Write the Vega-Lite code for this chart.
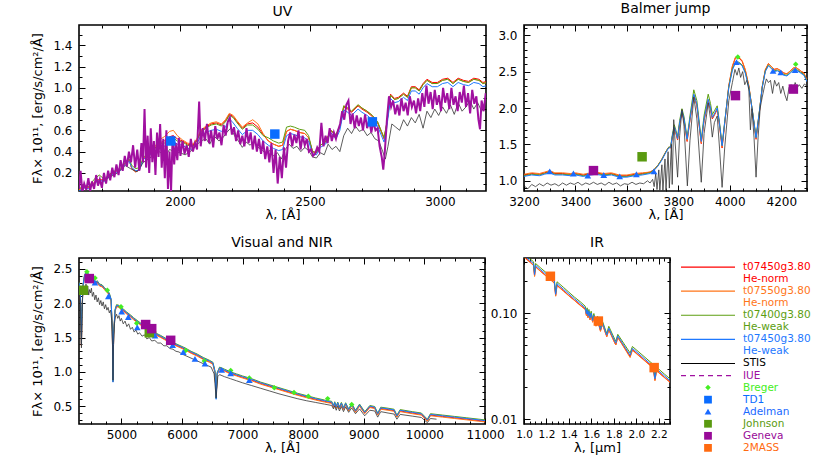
{
"$schema":"https://vega.github.io/schema/vega-lite/v6.json",
"background":"white",
"padding":{"left":31,"top":1,"right":5,"bottom":5},
"config":{
 "font":"DejaVu Sans",
 "view":{"stroke":"black","strokeWidth":1.6},
 "axis":{"domain":false,"grid":false,"tickColor":"black","tickWidth":1,"labelColor":"black","titleColor":"black","labelFont":"DejaVu Sans","titleFont":"DejaVu Sans","labelFontSize":12,"titleFontSize":13,"titleFontWeight":"normal","labelFlush":false,"labelOverlap":false},
 "title":{"font":"DejaVu Sans","fontSize":14,"fontWeight":"normal","color":"black","offset":6,"anchor":"middle"}
},
"datasets":{
"uvm":[
{"x":1612,"r":0.04,"o":0.04,"g":0.05,"b":0.03},{"x":1630,"r":0.07,"o":0.07,"g":0.08,"b":0.06},{"x":1650,"r":0.06,"o":0.06,"g":0.07,"b":0.05},{"x":1670,"r":0.11,"o":0.11,"g":0.14,"b":0.10},{"x":1690,"r":0.14,"o":0.14,"g":0.18,"b":0.13},{"x":1710,"r":0.13,"o":0.13,"g":0.14,"b":0.12},{"x":1730,"r":0.18,"o":0.18,"g":0.19,"b":0.17},{"x":1750,"r":0.21,"o":0.21,"g":0.22,"b":0.20},{"x":1770,"r":0.23,"o":0.23,"g":0.24,"b":0.22},{"x":1790,"r":0.29,"o":0.29,"g":0.30,"b":0.28},{"x":1805,"r":0.32,"o":0.32,"g":0.33,"b":0.31},{"x":1815,"r":0.24,"o":0.24,"g":0.27,"b":0.25},{"x":1830,"r":0.21,"o":0.21,"g":0.24,"b":0.22},{"x":1845,"r":0.23,"o":0.23,"g":0.25,"b":0.23},{"x":1860,"r":0.34,"o":0.34,"g":0.35,"b":0.33},{"x":1880,"r":0.37,"o":0.37,"g":0.38,"b":0.36},{"x":1900,"r":0.42,"o":0.43,"g":0.42,"b":0.40},{"x":1920,"r":0.48,"o":0.51,"g":0.47,"b":0.44},{"x":1940,"r":0.50,"o":0.54,"g":0.48,"b":0.45},{"x":1960,"r":0.54,"o":0.59,"g":0.52,"b":0.49},{"x":1975,"r":0.55,"o":0.60,"g":0.53,"b":0.50},{"x":1990,"r":0.52,"o":0.55,"g":0.50,"b":0.47},{"x":2010,"r":0.50,"o":0.51,"g":0.49,"b":0.46},{"x":2030,"r":0.47,"o":0.48,"g":0.46,"b":0.43},{"x":2050,"r":0.46,"o":0.47,"g":0.45,"b":0.42},{"x":2065,"r":0.51,"o":0.52,"g":0.50,"b":0.47},{"x":2080,"r":0.59,"o":0.60,"g":0.58,"b":0.55},{"x":2100,"r":0.63,"o":0.64,"g":0.62,"b":0.58},{"x":2120,"r":0.66,"o":0.67,"g":0.65,"b":0.60},{"x":2140,"r":0.67,"o":0.68,"g":0.66,"b":0.61},{"x":2160,"r":0.65,"o":0.66,"g":0.64,"b":0.59},{"x":2175,"r":0.69,"o":0.70,"g":0.68,"b":0.63},{"x":2190,"r":0.75,"o":0.76,"g":0.74,"b":0.71},{"x":2205,"r":0.73,"o":0.74,"g":0.72,"b":0.67},{"x":2220,"r":0.68,"o":0.69,"g":0.67,"b":0.62},{"x":2240,"r":0.62,"o":0.63,"g":0.61,"b":0.56},{"x":2260,"r":0.66,"o":0.67,"g":0.65,"b":0.60},{"x":2280,"r":0.67,"o":0.70,"g":0.65,"b":0.60},{"x":2300,"r":0.63,"o":0.66,"g":0.61,"b":0.56},{"x":2320,"r":0.56,"o":0.57,"g":0.55,"b":0.50},{"x":2340,"r":0.50,"o":0.50,"g":0.53,"b":0.46},{"x":2360,"r":0.47,"o":0.47,"g":0.50,"b":0.43},{"x":2380,"r":0.45,"o":0.45,"g":0.48,"b":0.41},{"x":2395,"r":0.46,"o":0.46,"g":0.49,"b":0.42},{"x":2410,"r":0.59,"o":0.59,"g":0.63,"b":0.55},{"x":2425,"r":0.61,"o":0.61,"g":0.64,"b":0.57},{"x":2440,"r":0.60,"o":0.60,"g":0.63,"b":0.56},{"x":2460,"r":0.58,"o":0.58,"g":0.61,"b":0.54},{"x":2480,"r":0.57,"o":0.57,"g":0.60,"b":0.53},{"x":2495,"r":0.53,"o":0.53,"g":0.55,"b":0.50},{"x":2510,"r":0.40,"o":0.40,"g":0.40,"b":0.38},{"x":2525,"r":0.39,"o":0.39,"g":0.39,"b":0.37},{"x":2540,"r":0.46,"o":0.46,"g":0.46,"b":0.44},{"x":2560,"r":0.49,"o":0.49,"g":0.49,"b":0.47},{"x":2580,"r":0.60,"o":0.60,"g":0.60,"b":0.58},{"x":2600,"r":0.55,"o":0.56,"g":0.56,"b":0.52},{"x":2615,"r":0.63,"o":0.64,"g":0.64,"b":0.60},{"x":2630,"r":0.82,"o":0.83,"g":0.83,"b":0.79},{"x":2645,"r":0.80,"o":0.81,"g":0.81,"b":0.77},{"x":2660,"r":0.77,"o":0.78,"g":0.78,"b":0.74},{"x":2685,"r":0.83,"o":0.84,"g":0.84,"b":0.80},{"x":2700,"r":0.80,"o":0.81,"g":0.81,"b":0.77},{"x":2720,"r":0.77,"o":0.78,"g":0.78,"b":0.74},{"x":2740,"r":0.73,"o":0.74,"g":0.74,"b":0.70},{"x":2760,"r":0.67,"o":0.68,"g":0.68,"b":0.64},{"x":2775,"r":0.58,"o":0.59,"g":0.59,"b":0.55},{"x":2785,"r":0.52,"o":0.53,"g":0.53,"b":0.49},{"x":2795,"r":0.65,"o":0.66,"g":0.66,"b":0.62},{"x":2810,"r":0.94,"o":0.93,"g":0.93,"b":0.90},{"x":2825,"r":0.90,"o":0.89,"g":0.89,"b":0.86},{"x":2840,"r":0.91,"o":0.90,"g":0.90,"b":0.87},{"x":2860,"r":0.95,"o":0.94,"g":0.94,"b":0.91},{"x":2875,"r":0.92,"o":0.91,"g":0.91,"b":0.88},{"x":2890,"r":1.01,"o":1.00,"g":1.00,"b":0.97},{"x":2905,"r":1.01,"o":1.00,"g":1.00,"b":0.97},{"x":2920,"r":0.98,"o":0.97,"g":0.97,"b":0.94},{"x":2935,"r":1.04,"o":1.03,"g":1.03,"b":1.00},{"x":2950,"r":1.08,"o":1.07,"g":1.07,"b":1.04},{"x":2970,"r":1.05,"o":1.04,"g":1.04,"b":1.01},{"x":2990,"r":1.05,"o":1.04,"g":1.04,"b":1.01},{"x":3010,"r":1.08,"o":1.07,"g":1.07,"b":1.04},{"x":3030,"r":1.09,"o":1.08,"g":1.08,"b":1.05},{"x":3050,"r":1.05,"o":1.04,"g":1.04,"b":1.01},{"x":3070,"r":1.09,"o":1.08,"g":1.08,"b":1.05},{"x":3090,"r":1.07,"o":1.06,"g":1.06,"b":1.03},{"x":3110,"r":1.06,"o":1.05,"g":1.05,"b":1.02},{"x":3130,"r":1.09,"o":1.08,"g":1.08,"b":1.05},{"x":3150,"r":1.08,"o":1.07,"g":1.07,"b":1.04},{"x":3165,"r":1.05,"o":1.04,"g":1.04,"b":1.01},{"x":3180,"r":1.06,"o":1.05,"g":1.05,"b":1.02}
],
"uvs":[
{"x":1700,"y":0.12},{"x":1730,"y":0.16},{"x":1760,"y":0.20},{"x":1790,"y":0.27},{"x":1810,"y":0.24},{"x":1835,"y":0.21},{"x":1860,"y":0.30},{"x":1890,"y":0.35},{"x":1920,"y":0.40},{"x":1945,"y":0.36},{"x":1960,"y":0.42},{"x":1980,"y":0.40},{"x":2000,"y":0.39},{"x":2020,"y":0.37},{"x":2040,"y":0.40},{"x":2060,"y":0.45},{"x":2080,"y":0.50},{"x":2100,"y":0.52},{"x":2115,"y":0.47},{"x":2130,"y":0.55},{"x":2150,"y":0.50},{"x":2165,"y":0.53},{"x":2180,"y":0.58},{"x":2195,"y":0.62},{"x":2210,"y":0.55},{"x":2225,"y":0.50},{"x":2240,"y":0.44},{"x":2255,"y":0.49},{"x":2270,"y":0.46},{"x":2285,"y":0.50},{"x":2300,"y":0.44},{"x":2315,"y":0.42},{"x":2330,"y":0.38},{"x":2345,"y":0.41},{"x":2360,"y":0.36},{"x":2375,"y":0.39},{"x":2390,"y":0.33},{"x":2405,"y":0.42},{"x":2420,"y":0.47},{"x":2435,"y":0.43},{"x":2450,"y":0.45},{"x":2465,"y":0.40},{"x":2480,"y":0.44},{"x":2495,"y":0.41},{"x":2510,"y":0.35},{"x":2525,"y":0.34},{"x":2540,"y":0.39},{"x":2555,"y":0.37},{"x":2570,"y":0.47},{"x":2585,"y":0.42},{"x":2600,"y":0.45},{"x":2615,"y":0.40},{"x":2630,"y":0.55},{"x":2645,"y":0.62},{"x":2660,"y":0.57},{"x":2675,"y":0.64},{"x":2690,"y":0.59},{"x":2705,"y":0.61},{"x":2720,"y":0.55},{"x":2735,"y":0.58},{"x":2750,"y":0.52},{"x":2765,"y":0.50},{"x":2780,"y":0.40},{"x":2790,"y":0.33},{"x":2800,"y":0.45},{"x":2815,"y":0.66},{"x":2830,"y":0.63},{"x":2845,"y":0.60},{"x":2860,"y":0.70},{"x":2875,"y":0.64},{"x":2890,"y":0.72},{"x":2905,"y":0.67},{"x":2920,"y":0.75},{"x":2935,"y":0.62},{"x":2950,"y":0.78},{"x":2965,"y":0.72},{"x":2980,"y":0.80},{"x":2995,"y":0.74},{"x":3010,"y":0.82},{"x":3025,"y":0.76},{"x":3040,"y":0.84},{"x":3055,"y":0.75},{"x":3070,"y":0.86},{"x":3085,"y":0.78},{"x":3100,"y":0.82},{"x":3115,"y":0.88},{"x":3130,"y":0.80},{"x":3145,"y":0.86},{"x":3160,"y":0.78},{"x":3175,"y":0.84}
],
"iue":[
{"x":1612,"y":0.05},{"x":1618,"y":0.22},{"x":1625,"y":0.02},{"x":1632,"y":0.10},{"x":1640,"y":0.04},{"x":1648,"y":0.15},{"x":1655,"y":0.03},{"x":1662,"y":0.12},{"x":1670,"y":0.05},{"x":1678,"y":0.18},{"x":1685,"y":0.08},{"x":1692,"y":0.14},{"x":1700,"y":0.06},{"x":1708,"y":0.20},{"x":1716,"y":0.10},{"x":1724,"y":0.22},{"x":1732,"y":0.13},{"x":1740,"y":0.25},{"x":1748,"y":0.16},{"x":1756,"y":0.28},{"x":1764,"y":0.18},{"x":1772,"y":0.32},{"x":1780,"y":0.22},{"x":1788,"y":0.36},{"x":1796,"y":0.26},{"x":1804,"y":0.40},{"x":1812,"y":0.30},{"x":1820,"y":0.46},{"x":1828,"y":0.25},{"x":1836,"y":0.42},{"x":1844,"y":0.22},{"x":1852,"y":0.48},{"x":1858,"y":0.30},{"x":1864,"y":0.80},{"x":1870,"y":0.25},{"x":1876,"y":0.55},{"x":1882,"y":0.20},{"x":1888,"y":0.62},{"x":1894,"y":0.30},{"x":1900,"y":0.50},{"x":1906,"y":0.18},{"x":1912,"y":0.58},{"x":1918,"y":0.35},{"x":1924,"y":0.66},{"x":1930,"y":0.25},{"x":1936,"y":0.52},{"x":1942,"y":0.15},{"x":1948,"y":0.60},{"x":1954,"y":0.05},{"x":1960,"y":0.40},{"x":1966,"y":0.03},{"x":1972,"y":0.55},{"x":1978,"y":0.28},{"x":1984,"y":0.48},{"x":1990,"y":0.32},{"x":1996,"y":0.53},{"x":2002,"y":0.36},{"x":2010,"y":0.50},{"x":2018,"y":0.38},{"x":2026,"y":0.46},{"x":2034,"y":0.35},{"x":2042,"y":0.52},{"x":2050,"y":0.40},{"x":2058,"y":0.48},{"x":2066,"y":0.42},{"x":2074,"y":0.87},{"x":2080,"y":0.45},{"x":2088,"y":0.62},{"x":2096,"y":0.50},{"x":2104,"y":0.66},{"x":2112,"y":0.48},{"x":2120,"y":0.60},{"x":2128,"y":0.44},{"x":2136,"y":0.64},{"x":2144,"y":0.52},{"x":2152,"y":0.58},{"x":2160,"y":0.46},{"x":2168,"y":0.65},{"x":2176,"y":0.55},{"x":2184,"y":0.68},{"x":2192,"y":0.72},{"x":2200,"y":0.56},{"x":2208,"y":0.63},{"x":2216,"y":0.50},{"x":2224,"y":0.60},{"x":2232,"y":0.47},{"x":2240,"y":0.55},{"x":2248,"y":0.45},{"x":2256,"y":0.62},{"x":2264,"y":0.48},{"x":2272,"y":0.58},{"x":2280,"y":0.42},{"x":2288,"y":0.55},{"x":2296,"y":0.40},{"x":2304,"y":0.52},{"x":2312,"y":0.38},{"x":2320,"y":0.50},{"x":2328,"y":0.33},{"x":2336,"y":0.45},{"x":2344,"y":0.30},{"x":2352,"y":0.48},{"x":2360,"y":0.20},{"x":2368,"y":0.42},{"x":2376,"y":0.10},{"x":2384,"y":0.35},{"x":2392,"y":0.15},{"x":2400,"y":0.44},{"x":2408,"y":0.25},{"x":2416,"y":0.50},{"x":2424,"y":0.58},{"x":2432,"y":0.45},{"x":2440,"y":0.56},{"x":2448,"y":0.48},{"x":2456,"y":0.60},{"x":2464,"y":0.42},{"x":2472,"y":0.55},{"x":2480,"y":0.46},{"x":2488,"y":0.52},{"x":2496,"y":0.40},{"x":2504,"y":0.42},{"x":2512,"y":0.36},{"x":2520,"y":0.38},{"x":2528,"y":0.44},{"x":2536,"y":0.40},{"x":2544,"y":0.67},{"x":2552,"y":0.45},{"x":2560,"y":0.55},{"x":2568,"y":0.48},{"x":2576,"y":0.62},{"x":2584,"y":0.50},{"x":2592,"y":0.58},{"x":2600,"y":0.52},{"x":2608,"y":0.60},{"x":2616,"y":0.66},{"x":2624,"y":0.78},{"x":2632,"y":0.70},{"x":2640,"y":0.84},{"x":2648,"y":0.88},{"x":2656,"y":0.66},{"x":2664,"y":0.76},{"x":2672,"y":0.62},{"x":2680,"y":0.74},{"x":2688,"y":0.64},{"x":2696,"y":0.72},{"x":2704,"y":0.60},{"x":2712,"y":0.75},{"x":2720,"y":0.62},{"x":2728,"y":0.70},{"x":2736,"y":0.58},{"x":2744,"y":0.68},{"x":2752,"y":0.60},{"x":2760,"y":0.62},{"x":2768,"y":0.45},{"x":2776,"y":0.35},{"x":2782,"y":0.23},{"x":2788,"y":0.40},{"x":2796,"y":0.70},{"x":2804,"y":0.92},{"x":2812,"y":0.82},{"x":2820,"y":0.88},{"x":2828,"y":0.75},{"x":2836,"y":0.84},{"x":2844,"y":0.74},{"x":2852,"y":0.90},{"x":2860,"y":0.78},{"x":2868,"y":0.86},{"x":2876,"y":0.74},{"x":2884,"y":0.92},{"x":2892,"y":0.82},{"x":2900,"y":0.88},{"x":2908,"y":0.76},{"x":2916,"y":0.90},{"x":2924,"y":0.78},{"x":2932,"y":0.95},{"x":2940,"y":0.82},{"x":2948,"y":1.02},{"x":2956,"y":0.85},{"x":2964,"y":0.96},{"x":2972,"y":0.80},{"x":2980,"y":0.98},{"x":2988,"y":0.84},{"x":2996,"y":0.93},{"x":3004,"y":0.78},{"x":3012,"y":1.00},{"x":3020,"y":0.86},{"x":3028,"y":0.95},{"x":3036,"y":0.80},{"x":3044,"y":1.00},{"x":3052,"y":0.84},{"x":3060,"y":0.92},{"x":3068,"y":0.78},{"x":3076,"y":0.96},{"x":3084,"y":0.86},{"x":3092,"y":1.02},{"x":3100,"y":0.82},{"x":3108,"y":0.95},{"x":3116,"y":0.76},{"x":3124,"y":0.98},{"x":3132,"y":0.85},{"x":3140,"y":0.92},{"x":3148,"y":0.70},{"x":3154,"y":0.61},{"x":3160,"y":0.88},{"x":3168,"y":0.78},{"x":3176,"y":0.95}
],
"bjm":[
{"x":3200,"r":1.08,"o":1.09,"g":1.07,"b":1.06},{"x":3230,"r":1.10,"o":1.11,"g":1.09,"b":1.08},{"x":3260,"r":1.09,"o":1.10,"g":1.08,"b":1.07},{"x":3280,"r":1.11,"o":1.12,"g":1.10,"b":1.09},{"x":3300,"r":1.13,"o":1.14,"g":1.12,"b":1.11},{"x":3320,"r":1.10,"o":1.11,"g":1.09,"b":1.08},{"x":3350,"r":1.10,"o":1.11,"g":1.09,"b":1.08},{"x":3380,"r":1.09,"o":1.10,"g":1.08,"b":1.07},{"x":3400,"r":1.10,"o":1.11,"g":1.09,"b":1.08},{"x":3430,"r":1.08,"o":1.09,"g":1.07,"b":1.06},{"x":3460,"r":1.10,"o":1.11,"g":1.09,"b":1.08},{"x":3480,"r":1.11,"o":1.12,"g":1.10,"b":1.09},{"x":3510,"r":1.09,"o":1.10,"g":1.08,"b":1.07},{"x":3540,"r":1.10,"o":1.11,"g":1.09,"b":1.08},{"x":3570,"r":1.07,"o":1.08,"g":1.06,"b":1.05},{"x":3600,"r":1.07,"o":1.08,"g":1.06,"b":1.05},{"x":3630,"r":1.09,"o":1.10,"g":1.08,"b":1.07},{"x":3660,"r":1.10,"o":1.11,"g":1.09,"b":1.08},{"x":3690,"r":1.12,"o":1.12,"g":1.11,"b":1.10},{"x":3705,"r":1.15,"o":1.15,"g":1.15,"b":1.14},{"x":3720,"r":1.21,"o":1.21,"g":1.21,"b":1.20},{"x":3735,"r":1.29,"o":1.29,"g":1.29,"b":1.28},{"x":3750,"r":1.39,"o":1.39,"g":1.39,"b":1.38},{"x":3762,"r":1.46,"o":1.46,"g":1.46,"b":1.45},{"x":3770,"r":1.45,"o":1.46,"g":1.47,"b":1.46},{"x":3777,"r":1.61,"o":1.62,"g":1.64,"b":1.62},{"x":3784,"r":1.72,"o":1.73,"g":1.77,"b":1.74},{"x":3790,"r":1.66,"o":1.67,"g":1.70,"b":1.68},{"x":3797,"r":1.56,"o":1.57,"g":1.60,"b":1.58},{"x":3805,"r":1.78,"o":1.79,"g":1.83,"b":1.80},{"x":3814,"r":1.94,"o":1.95,"g":1.99,"b":1.96},{"x":3822,"r":1.83,"o":1.84,"g":1.88,"b":1.85},{"x":3834,"r":1.54,"o":1.55,"g":1.59,"b":1.57},{"x":3845,"r":1.83,"o":1.84,"g":1.89,"b":1.85},{"x":3860,"r":2.17,"o":2.18,"g":2.25,"b":2.19},{"x":3872,"r":2.03,"o":2.04,"g":2.10,"b":2.05},{"x":3889,"r":1.51,"o":1.52,"g":1.56,"b":1.54},{"x":3900,"r":1.83,"o":1.84,"g":1.90,"b":1.85},{"x":3916,"r":2.10,"o":2.11,"g":2.19,"b":2.12},{"x":3925,"r":1.98,"o":1.99,"g":2.06,"b":2.00},{"x":3932,"r":1.85,"o":1.86,"g":1.91,"b":1.87},{"x":3940,"r":1.90,"o":1.91,"g":1.96,"b":1.92},{"x":3951,"r":1.98,"o":1.99,"g":2.03,"b":2.00},{"x":3960,"r":1.76,"o":1.77,"g":1.80,"b":1.78},{"x":3970,"r":1.45,"o":1.46,"g":1.49,"b":1.48},{"x":3980,"r":1.78,"o":1.79,"g":1.81,"b":1.80},{"x":3996,"r":2.30,"o":2.31,"g":2.29,"b":2.28},{"x":4010,"r":2.57,"o":2.58,"g":2.54,"b":2.52},{"x":4022,"r":2.69,"o":2.70,"g":2.63,"b":2.62},{"x":4035,"r":2.69,"o":2.70,"g":2.63,"b":2.62},{"x":4048,"r":2.64,"o":2.65,"g":2.59,"b":2.58},{"x":4060,"r":2.52,"o":2.53,"g":2.49,"b":2.48},{"x":4074,"r":2.30,"o":2.31,"g":2.29,"b":2.28},{"x":4088,"r":1.94,"o":1.95,"g":1.96,"b":1.95},{"x":4102,"r":1.57,"o":1.58,"g":1.60,"b":1.59},{"x":4115,"r":1.94,"o":1.95,"g":1.96,"b":1.95},{"x":4126,"r":2.29,"o":2.30,"g":2.29,"b":2.28},{"x":4138,"r":2.52,"o":2.53,"g":2.51,"b":2.50},{"x":4150,"r":2.61,"o":2.61,"g":2.59,"b":2.58},{"x":4162,"r":2.57,"o":2.57,"g":2.55,"b":2.54},{"x":4172,"r":2.53,"o":2.53,"g":2.51,"b":2.50},{"x":4185,"r":2.54,"o":2.54,"g":2.52,"b":2.51},{"x":4198,"r":2.51,"o":2.51,"g":2.49,"b":2.48},{"x":4210,"r":2.48,"o":2.48,"g":2.46,"b":2.45},{"x":4222,"r":2.47,"o":2.47,"g":2.45,"b":2.44},{"x":4235,"r":2.51,"o":2.51,"g":2.49,"b":2.48},{"x":4248,"r":2.55,"o":2.55,"g":2.53,"b":2.52},{"x":4260,"r":2.55,"o":2.55,"g":2.53,"b":2.52},{"x":4275,"r":2.51,"o":2.51,"g":2.49,"b":2.48},{"x":4288,"r":2.48,"o":2.48,"g":2.46,"b":2.45},{"x":4300,"r":2.38,"o":2.38,"g":2.37,"b":2.36}
],
"bjs":[
{"x":3200,"y":0.93},{"x":3215,"y":0.89},{"x":3230,"y":0.95},{"x":3245,"y":0.92},{"x":3260,"y":0.96},{"x":3275,"y":0.93},{"x":3290,"y":0.97},{"x":3305,"y":0.94},{"x":3320,"y":0.96},{"x":3335,"y":0.93},{"x":3350,"y":0.97},{"x":3365,"y":0.94},{"x":3380,"y":0.97},{"x":3395,"y":0.95},{"x":3410,"y":0.98},{"x":3425,"y":0.94},{"x":3440,"y":0.97},{"x":3455,"y":0.95},{"x":3470,"y":0.98},{"x":3485,"y":0.95},{"x":3500,"y":0.97},{"x":3515,"y":0.94},{"x":3530,"y":0.98},{"x":3545,"y":0.95},{"x":3560,"y":0.97},{"x":3575,"y":0.93},{"x":3590,"y":0.96},{"x":3605,"y":0.95},{"x":3620,"y":0.98},{"x":3635,"y":0.95},{"x":3650,"y":0.97},{"x":3665,"y":0.96},{"x":3680,"y":1.00},{"x":3690,"y":0.97},{"x":3700,"y":1.02},{"x":3706,"y":0.92},{"x":3712,"y":1.10},{"x":3717,"y":0.88},{"x":3724,"y":1.15},{"x":3728,"y":0.87},{"x":3736,"y":1.22},{"x":3740,"y":0.86},{"x":3748,"y":1.30},{"x":3752,"y":0.87},{"x":3760,"y":1.40},{"x":3765,"y":0.90},{"x":3773,"y":1.50},{"x":3776,"y":0.95},{"x":3782,"y":1.84},{"x":3787,"y":1.55},{"x":3797,"y":1.05},{"x":3805,"y":1.62},{"x":3814,"y":1.98},{"x":3822,"y":1.75},{"x":3835,"y":0.93},{"x":3845,"y":1.55},{"x":3860,"y":2.15},{"x":3872,"y":1.85},{"x":3889,"y":0.98},{"x":3900,"y":1.65},{"x":3916,"y":2.07},{"x":3925,"y":1.85},{"x":3932,"y":1.60},{"x":3940,"y":1.80},{"x":3951,"y":1.89},{"x":3960,"y":1.45},{"x":3970,"y":0.91},{"x":3980,"y":1.45},{"x":3996,"y":2.10},{"x":4010,"y":2.35},{"x":4020,"y":2.53},{"x":4028,"y":2.45},{"x":4035,"y":2.55},{"x":4042,"y":2.42},{"x":4050,"y":2.50},{"x":4058,"y":2.32},{"x":4066,"y":2.38},{"x":4074,"y":2.25},{"x":4080,"y":1.70},{"x":4086,"y":1.99},{"x":4094,"y":1.60},{"x":4102,"y":1.05},{"x":4110,"y":1.60},{"x":4118,"y":2.00},{"x":4126,"y":2.15},{"x":4135,"y":2.30},{"x":4142,"y":2.40},{"x":4150,"y":2.35},{"x":4158,"y":2.38},{"x":4166,"y":2.20},{"x":4174,"y":2.38},{"x":4182,"y":2.30},{"x":4190,"y":2.35},{"x":4198,"y":2.20},{"x":4206,"y":2.30},{"x":4214,"y":2.18},{"x":4222,"y":2.10},{"x":4230,"y":2.28},{"x":4238,"y":2.32},{"x":4246,"y":2.25},{"x":4254,"y":2.35},{"x":4262,"y":2.28},{"x":4270,"y":2.32},{"x":4280,"y":2.27},{"x":4290,"y":2.33},{"x":4300,"y":2.30}
],
"vism":[
{"x":4300,"r":2.29,"o":2.28,"g":2.31,"b":2.30},{"x":4320,"r":2.19,"o":2.18,"g":2.21,"b":2.20},{"x":4335,"r":1.69,"o":1.68,"g":1.71,"b":1.70},{"x":4340,"r":1.39,"o":1.38,"g":1.41,"b":1.40},{"x":4348,"r":1.84,"o":1.83,"g":1.86,"b":1.85},{"x":4365,"r":2.24,"o":2.23,"g":2.26,"b":2.25},{"x":4390,"r":2.39,"o":2.38,"g":2.41,"b":2.40},{"x":4420,"r":2.44,"o":2.43,"g":2.46,"b":2.45},{"x":4445,"r":2.43,"o":2.42,"g":2.45,"b":2.44},{"x":4470,"r":2.35,"o":2.34,"g":2.37,"b":2.36},{"x":4490,"r":2.39,"o":2.38,"g":2.41,"b":2.40},{"x":4520,"r":2.37,"o":2.36,"g":2.39,"b":2.38},{"x":4550,"r":2.32,"o":2.31,"g":2.34,"b":2.33},{"x":4580,"r":2.29,"o":2.28,"g":2.31,"b":2.30},{"x":4600,"r":2.31,"o":2.30,"g":2.33,"b":2.32},{"x":4640,"r":2.26,"o":2.25,"g":2.28,"b":2.27},{"x":4680,"r":2.25,"o":2.24,"g":2.27,"b":2.26},{"x":4720,"r":2.21,"o":2.20,"g":2.23,"b":2.22},{"x":4760,"r":2.17,"o":2.16,"g":2.19,"b":2.18},{"x":4800,"r":2.13,"o":2.12,"g":2.15,"b":2.14},{"x":4830,"r":2.04,"o":2.03,"g":2.06,"b":2.05},{"x":4850,"r":1.59,"o":1.58,"g":1.61,"b":1.60},{"x":4861,"r":0.86,"o":0.86,"g":0.86,"b":0.85},{"x":4872,"r":1.54,"o":1.53,"g":1.56,"b":1.55},{"x":4895,"r":1.89,"o":1.88,"g":1.91,"b":1.90},{"x":4920,"r":1.96,"o":1.95,"g":1.98,"b":1.97},{"x":4960,"r":1.95,"o":1.94,"g":1.97,"b":1.96},{"x":5000,"r":1.91,"o":1.90,"g":1.93,"b":1.92},{"x":5040,"r":1.89,"o":1.88,"g":1.91,"b":1.90},{"x":5090,"r":1.85,"o":1.84,"g":1.87,"b":1.86},{"x":5150,"r":1.81,"o":1.80,"g":1.83,"b":1.82},{"x":5200,"r":1.77,"o":1.76,"g":1.79,"b":1.78},{"x":5260,"r":1.73,"o":1.72,"g":1.75,"b":1.74},{"x":5320,"r":1.69,"o":1.68,"g":1.71,"b":1.70},{"x":5400,"r":1.64,"o":1.63,"g":1.66,"b":1.65},{"x":5480,"r":1.60,"o":1.59,"g":1.62,"b":1.61},{"x":5560,"r":1.55,"o":1.54,"g":1.57,"b":1.56},{"x":5650,"r":1.51,"o":1.50,"g":1.53,"b":1.52},{"x":5750,"r":1.46,"o":1.45,"g":1.48,"b":1.47},{"x":5850,"r":1.41,"o":1.40,"g":1.43,"b":1.42},{"x":5950,"r":1.37,"o":1.36,"g":1.39,"b":1.38},{"x":6050,"r":1.33,"o":1.32,"g":1.35,"b":1.34},{"x":6150,"r":1.28,"o":1.27,"g":1.30,"b":1.29},{"x":6250,"r":1.24,"o":1.23,"g":1.26,"b":1.25},{"x":6350,"r":1.19,"o":1.18,"g":1.21,"b":1.20},{"x":6450,"r":1.15,"o":1.14,"g":1.17,"b":1.16},{"x":6510,"r":1.12,"o":1.11,"g":1.14,"b":1.13},{"x":6545,"r":0.99,"o":0.98,"g":1.01,"b":1.00},{"x":6563,"r":0.62,"o":0.62,"g":0.61,"b":0.60},{"x":6580,"r":0.97,"o":0.96,"g":0.99,"b":0.98},{"x":6620,"r":1.05,"o":1.04,"g":1.07,"b":1.06},{"x":6700,"r":1.02,"o":1.01,"g":1.04,"b":1.03},{"x":6800,"r":0.98,"o":0.97,"g":1.00,"b":0.99},{"x":6900,"r":0.95,"o":0.94,"g":0.97,"b":0.96},{"x":7000,"r":0.92,"o":0.91,"g":0.94,"b":0.93},{"x":7150,"r":0.88,"o":0.87,"g":0.90,"b":0.89},{"x":7300,"r":0.83,"o":0.82,"g":0.85,"b":0.84},{"x":7450,"r":0.79,"o":0.78,"g":0.81,"b":0.80},{"x":7600,"r":0.75,"o":0.74,"g":0.77,"b":0.76},{"x":7750,"r":0.71,"o":0.70,"g":0.73,"b":0.72},{"x":7900,"r":0.67,"o":0.66,"g":0.69,"b":0.68},{"x":8050,"r":0.635,"o":0.625,"g":0.655,"b":0.645},{"x":8200,"r":0.60,"o":0.59,"g":0.62,"b":0.61},{"x":8350,"r":0.57,"o":0.56,"g":0.59,"b":0.58},{"x":8470,"r":0.55,"o":0.54,"g":0.57,"b":0.56},{"x":8500,"r":0.49,"o":0.48,"g":0.51,"b":0.50},{"x":8520,"r":0.545,"o":0.535,"g":0.565,"b":0.555},{"x":8545,"r":0.48,"o":0.47,"g":0.50,"b":0.49},{"x":8570,"r":0.54,"o":0.53,"g":0.56,"b":0.55},{"x":8598,"r":0.47,"o":0.46,"g":0.49,"b":0.48},{"x":8630,"r":0.535,"o":0.525,"g":0.555,"b":0.545},{"x":8665,"r":0.46,"o":0.45,"g":0.48,"b":0.47},{"x":8700,"r":0.53,"o":0.52,"g":0.55,"b":0.54},{"x":8750,"r":0.44,"o":0.43,"g":0.46,"b":0.45},{"x":8800,"r":0.52,"o":0.51,"g":0.54,"b":0.53},{"x":8863,"r":0.42,"o":0.41,"g":0.44,"b":0.43},{"x":8930,"r":0.51,"o":0.50,"g":0.53,"b":0.52},{"x":9015,"r":0.40,"o":0.39,"g":0.42,"b":0.41},{"x":9100,"r":0.49,"o":0.48,"g":0.51,"b":0.50},{"x":9180,"r":0.475,"o":0.465,"g":0.495,"b":0.485},{"x":9229,"r":0.38,"o":0.37,"g":0.40,"b":0.39},{"x":9280,"r":0.465,"o":0.455,"g":0.485,"b":0.475},{"x":9400,"r":0.45,"o":0.44,"g":0.47,"b":0.46},{"x":9500,"r":0.435,"o":0.425,"g":0.455,"b":0.445},{"x":9546,"r":0.35,"o":0.34,"g":0.37,"b":0.36},{"x":9600,"r":0.43,"o":0.42,"g":0.45,"b":0.44},{"x":9800,"r":0.40,"o":0.39,"g":0.42,"b":0.41},{"x":9950,"r":0.38,"o":0.37,"g":0.40,"b":0.39},{"x":10049,"r":0.29,"o":0.28,"g":0.31,"b":0.30},{"x":10100,"r":0.37,"o":0.36,"g":0.39,"b":0.38},{"x":10300,"r":0.35,"o":0.34,"g":0.37,"b":0.36},{"x":10500,"r":0.33,"o":0.32,"g":0.35,"b":0.34},{"x":10700,"r":0.31,"o":0.30,"g":0.33,"b":0.32},{"x":10900,"r":0.29,"o":0.28,"g":0.31,"b":0.30},{"x":11000,"r":0.28,"o":0.27,"g":0.30,"b":0.29}
],
"viss":[
{"x":4300,"y":2.15},{"x":4320,"y":2.05},{"x":4332,"y":1.60},{"x":4340,"y":1.35},{"x":4348,"y":1.70},{"x":4360,"y":2.10},{"x":4380,"y":2.22},{"x":4400,"y":2.18},{"x":4415,"y":2.28},{"x":4430,"y":2.20},{"x":4445,"y":2.25},{"x":4460,"y":2.12},{"x":4475,"y":2.20},{"x":4490,"y":2.15},{"x":4505,"y":2.22},{"x":4520,"y":2.10},{"x":4540,"y":2.16},{"x":4560,"y":2.05},{"x":4580,"y":2.12},{"x":4600,"y":2.02},{"x":4620,"y":2.08},{"x":4640,"y":1.98},{"x":4660,"y":2.04},{"x":4680,"y":1.96},{"x":4700,"y":2.02},{"x":4720,"y":1.92},{"x":4740,"y":1.98},{"x":4760,"y":1.90},{"x":4780,"y":1.94},{"x":4800,"y":1.86},{"x":4820,"y":1.90},{"x":4840,"y":1.75},{"x":4852,"y":1.45},{"x":4861,"y":0.88},{"x":4870,"y":1.40},{"x":4885,"y":1.70},{"x":4900,"y":1.80},{"x":4920,"y":1.84},{"x":4940,"y":1.78},{"x":4960,"y":1.82},{"x":4980,"y":1.74},{"x":5000,"y":1.78},{"x":5030,"y":1.70},{"x":5060,"y":1.74},{"x":5090,"y":1.66},{"x":5120,"y":1.70},{"x":5150,"y":1.62},{"x":5180,"y":1.65},{"x":5210,"y":1.58},{"x":5240,"y":1.61},{"x":5270,"y":1.55},{"x":5300,"y":1.57},{"x":5340,"y":1.52},{"x":5380,"y":1.54},{"x":5420,"y":1.48},{"x":5460,"y":1.50},{"x":5500,"y":1.45},{"x":5550,"y":1.46},{"x":5600,"y":1.42},{"x":5650,"y":1.42},{"x":5700,"y":1.38},{"x":5750,"y":1.38},{"x":5800,"y":1.34},{"x":5850,"y":1.33},{"x":5900,"y":1.30},{"x":5950,"y":1.29},{"x":6000,"y":1.26},{"x":6100,"y":1.22},{"x":6200,"y":1.18},{"x":6300,"y":1.14},{"x":6400,"y":1.10},{"x":6480,"y":1.07},{"x":6530,"y":0.97},{"x":6563,"y":0.62},{"x":6590,"y":0.93},{"x":6620,"y":0.96},{"x":6700,"y":0.93},{"x":6800,"y":0.90},{"x":6900,"y":0.87},{"x":7000,"y":0.84},{"x":7150,"y":0.80},{"x":7300,"y":0.76},{"x":7450,"y":0.72},{"x":7600,"y":0.68},{"x":7750,"y":0.645},{"x":7900,"y":0.61},{"x":8050,"y":0.58},{"x":8200,"y":0.555},{"x":8350,"y":0.53},{"x":8470,"y":0.51},{"x":8500,"y":0.46},{"x":8520,"y":0.505},{"x":8545,"y":0.44},{"x":8570,"y":0.50},{"x":8598,"y":0.43},{"x":8630,"y":0.495},{"x":8665,"y":0.42},{"x":8700,"y":0.49},{"x":8750,"y":0.41},{"x":8800,"y":0.475},{"x":8863,"y":0.39},{"x":8930,"y":0.46},{"x":9015,"y":0.36},{"x":9100,"y":0.44},{"x":9180,"y":0.43},{"x":9229,"y":0.34},{"x":9280,"y":0.42},{"x":9400,"y":0.40},{"x":9500,"y":0.385},{"x":9546,"y":0.31},{"x":9600,"y":0.38},{"x":9800,"y":0.355},{"x":9950,"y":0.335},{"x":10049,"y":0.26},{"x":10100,"y":0.32},{"x":10200,"y":0.31}
],
"irm":[
{"x":1.00,"r":0.339,"o":0.335,"g":0.363,"b":0.349},{"x":1.06,"r":0.299,"o":0.296,"g":0.320,"b":0.308},{"x":1.085,"r":0.283,"o":0.280,"g":0.304,"b":0.292},{"x":1.094,"r":0.223,"o":0.221,"g":0.239,"b":0.23},{"x":1.103,"r":0.274,"o":0.271,"g":0.293,"b":0.282},{"x":1.15,"r":0.247,"o":0.245,"g":0.265,"b":0.255},{"x":1.20,"r":0.223,"o":0.221,"g":0.239,"b":0.230},{"x":1.27,"r":0.193,"o":0.191,"g":0.207,"b":0.199},{"x":1.282,"r":0.146,"o":0.144,"g":0.156,"b":0.150},{"x":1.294,"r":0.183,"o":0.181,"g":0.197,"b":0.189},{"x":1.35,"r":0.163,"o":0.161,"g":0.175,"b":0.168},{"x":1.40,"r":0.146,"o":0.145,"g":0.157,"b":0.151},{"x":1.45,"r":0.132,"o":0.131,"g":0.141,"b":0.136},{"x":1.50,"r":0.119,"o":0.118,"g":0.128,"b":0.123},{"x":1.545,"r":0.109,"o":0.108,"g":0.116,"b":0.112},{"x":1.556,"r":0.095,"o":0.094,"g":0.102,"b":0.098},{"x":1.562,"r":0.105,"o":0.104,"g":0.112,"b":0.108},{"x":1.570,"r":0.091,"o":0.090,"g":0.098,"b":0.094},{"x":1.578,"r":0.101,"o":0.100,"g":0.108,"b":0.104},{"x":1.588,"r":0.087,"o":0.086,"g":0.094,"b":0.090},{"x":1.598,"r":0.097,"o":0.096,"g":0.104,"b":0.100},{"x":1.611,"r":0.082,"o":0.082,"g":0.088,"b":0.085},{"x":1.622,"r":0.092,"o":0.091,"g":0.099,"b":0.095},{"x":1.641,"r":0.076,"o":0.075,"g":0.081,"b":0.078},{"x":1.655,"r":0.086,"o":0.085,"g":0.093,"b":0.089},{"x":1.681,"r":0.068,"o":0.067,"g":0.073,"b":0.070},{"x":1.698,"r":0.079,"o":0.078,"g":0.084,"b":0.081},{"x":1.737,"r":0.060,"o":0.060,"g":0.064,"b":0.062},{"x":1.755,"r":0.070,"o":0.069,"g":0.075,"b":0.072},{"x":1.817,"r":0.050,"o":0.050,"g":0.054,"b":0.052},{"x":1.835,"r":0.059,"o":0.059,"g":0.063,"b":0.061},{"x":1.945,"r":0.039,"o":0.038,"g":0.042,"b":0.040},{"x":1.965,"r":0.0451,"o":0.0446,"g":0.0484,"b":0.0465},{"x":2.05,"r":0.0377,"o":0.0373,"g":0.0405,"b":0.0389},{"x":2.15,"r":0.0306,"o":0.0302,"g":0.0328,"b":0.0315},{"x":2.166,"r":0.0233,"o":0.0230,"g":0.0250,"b":0.024},{"x":2.18,"r":0.0288,"o":0.0285,"g":0.0309,"b":0.0297},{"x":2.25,"r":0.0248,"o":0.0246,"g":0.0266,"b":0.0256},{"x":2.30,"r":0.0224,"o":0.0222,"g":0.0240,"b":0.0231}
],
"phot":[
{"p":"uv","s":"td1","x":1965,"y":0.50},{"p":"uv","s":"td1","x":2365,"y":0.565},{"p":"uv","s":"td1","x":2740,"y":0.68},
{"p":"bj","s":"adelman","x":3300,"y":1.13},{"p":"bj","s":"adelman","x":3392,"y":1.10},{"p":"bj","s":"adelman","x":3448,"y":1.07},{"p":"bj","s":"adelman","x":3510,"y":1.08},{"p":"bj","s":"adelman","x":3572,"y":1.06},{"p":"bj","s":"adelman","x":3637,"y":1.09},{"p":"bj","s":"adelman","x":3705,"y":1.13},{"p":"bj","s":"adelman","x":4026,"y":2.63},{"p":"bj","s":"adelman","x":4168,"y":2.51},{"p":"bj","s":"adelman","x":4198,"y":2.49},{"p":"bj","s":"adelman","x":4254,"y":2.52},
{"p":"bj","s":"breger","x":4031,"y":2.70},{"p":"bj","s":"breger","x":4256,"y":2.60},
{"p":"bj","s":"geneva","x":3470,"y":1.14},{"p":"bj","s":"geneva","x":4022,"y":2.17},{"p":"bj","s":"geneva","x":4247,"y":2.26},
{"p":"bj","s":"johnson","x":3659,"y":1.33},
{"p":"vis","s":"breger","x":4430,"y":2.46},{"p":"vis","s":"breger","x":4564,"y":2.37},{"p":"vis","s":"breger","x":4767,"y":2.19},{"p":"vis","s":"breger","x":4993,"y":1.95},{"p":"vis","s":"breger","x":5252,"y":1.71},{"p":"vis","s":"breger","x":5538,"y":1.58},{"p":"vis","s":"breger","x":6061,"y":1.31},{"p":"vis","s":"breger","x":6368,"y":1.16},{"p":"vis","s":"breger","x":6803,"y":1.02},{"p":"vis","s":"breger","x":7111,"y":0.91},{"p":"vis","s":"breger","x":7523,"y":0.77},{"p":"vis","s":"breger","x":7848,"y":0.70},{"p":"vis","s":"breger","x":8084,"y":0.645},{"p":"vis","s":"breger","x":8404,"y":0.61},{"p":"vis","s":"breger","x":8800,"y":0.525},
{"p":"vis","s":"adelman","x":4564,"y":2.30},{"p":"vis","s":"adelman","x":4784,"y":2.10},{"p":"vis","s":"adelman","x":5004,"y":1.88},{"p":"vis","s":"adelman","x":5114,"y":1.80},{"p":"vis","s":"adelman","x":5262,"y":1.65},{"p":"vis","s":"adelman","x":5554,"y":1.53},{"p":"vis","s":"adelman","x":5846,"y":1.39},{"p":"vis","s":"adelman","x":6021,"y":1.29},{"p":"vis","s":"adelman","x":6214,"y":1.19},{"p":"vis","s":"adelman","x":6379,"y":1.12},{"p":"vis","s":"adelman","x":6655,"y":1.03},{"p":"vis","s":"adelman","x":6803,"y":0.98},{"p":"vis","s":"adelman","x":7111,"y":0.88},
{"p":"vis","s":"johnson","x":4371,"y":2.19},{"p":"vis","s":"johnson","x":5460,"y":1.57},
{"p":"vis","s":"geneva","x":4470,"y":2.36},{"p":"vis","s":"geneva","x":5400,"y":1.69},{"p":"vis","s":"geneva","x":5500,"y":1.63},{"p":"vis","s":"geneva","x":5813,"y":1.46},
{"p":"ir","s":"2mass","x":1.235,"y":0.222},{"p":"ir","s":"2mass","x":1.662,"y":0.084},{"p":"ir","s":"2mass","x":2.159,"y":0.0306}
],
"leg":[
{"n":0,"t":"t07450g3.80","s":"r"},{"n":1,"t":"He-norm","s":"r"},{"n":2,"t":"t07550g3.80","s":"o"},{"n":3,"t":"He-norm","s":"o"},{"n":4,"t":"t07400g3.80","s":"g"},{"n":5,"t":"He-weak","s":"g"},{"n":6,"t":"t07450g3.80","s":"b"},{"n":7,"t":"He-weak","s":"b"},{"n":8,"t":"STIS","s":"stis"},{"n":9,"t":"IUE","s":"iue"},{"n":10,"t":"Breger","s":"breger"},{"n":11,"t":"TD1","s":"td1"},{"n":12,"t":"Adelman","s":"adelman"},{"n":13,"t":"Johnson","s":"johnson"},{"n":14,"t":"Geneva","s":"geneva"},{"n":15,"t":"2MASS","s":"2mass"}
]
},
"spacing":13,
"vconcat":[
{"bounds":"flush","spacing":38,"hconcat":[
 {"width":407,"height":166,"title":{"text":"UV"},
  "layer":[
   {"data":{"name":"uvm"},"transform":[{"fold":["r","o","g","b"],"as":["s","y"]}],"mark":{"type":"line","strokeWidth":1,"clip":true},
    "encoding":{
     "x":{"field":"x","type":"quantitative","scale":{"domain":[1612,3177],"nice":false,"zero":false},"axis":{"orient":"bottom","values":[1700,1800,1900,2000,2100,2200,2300,2400,2500,2600,2700,2800,2900,3000,3100],"labelExpr":"datum.value % 500 === 0 ? format(datum.value,'d') : ''","tickSize":{"condition":{"test":"datum.value % 500 === 0","value":-6},"value":-3},"labelPadding":11,"title":"λ, [Å]","titlePadding":-2}},
     "y":{"field":"y","type":"quantitative","scale":{"domain":[0.03,1.59],"nice":false,"zero":false},"axis":{"orient":"left","values":[0.1,0.2,0.3,0.4,0.5,0.6,0.7,0.8,0.9,1.0,1.1,1.2,1.3,1.4,1.5],"labelExpr":"abs(datum.value*5-round(datum.value*5))<0.001 ? format(datum.value,'.1f') : ''","tickSize":{"condition":{"test":"abs(datum.value*5-round(datum.value*5))<0.001","value":-6},"value":-3},"labelPadding":13,"title":"Fλ× 10¹¹, [erg/s/cm²/Å]","titlePadding":8}},
     "color":{"field":"s","type":"nominal","scale":{"domain":["r","o","g","b","stis","iue","breger","td1","adelman","johnson","geneva","2mass"],"range":["#ff0000","#ff7518","#5c9e10","#1e78ff","#000000","#a010a0","#44ee22","#0a6cff","#1a6aff","#5a9a10","#980a98","#ff6a10"]},"legend":null}}},
   {"data":{"name":"uvs"},"mark":{"type":"line","color":"#333333","strokeWidth":0.8,"clip":true},
    "encoding":{"x":{"field":"x","type":"quantitative","axis":null},"y":{"field":"y","type":"quantitative","axis":null}}},
   {"data":{"name":"iue"},"mark":{"type":"line","color":"#a010a0","strokeWidth":2,"clip":true},
    "encoding":{"x":{"field":"x","type":"quantitative","axis":null},"y":{"field":"y","type":"quantitative","axis":null}}},
   {"data":{"name":"phot"},"transform":[{"filter":"datum.p==='uv'"}],"mark":{"type":"point","filled":true,"opacity":1,"strokeWidth":0,"clip":true},
    "encoding":{
     "x":{"field":"x","type":"quantitative","axis":{"orient":"top","values":[1700,1800,1900,2000,2100,2200,2300,2400,2500,2600,2700,2800,2900,3000,3100],"labels":false,"tickSize":{"condition":{"test":"datum.value % 500 === 0","value":-6},"value":-3},"title":null}},
     "y":{"field":"y","type":"quantitative","axis":{"orient":"right","values":[0.1,0.2,0.3,0.4,0.5,0.6,0.7,0.8,0.9,1.0,1.1,1.2,1.3,1.4,1.5],"labels":false,"tickSize":{"condition":{"test":"abs(datum.value*5-round(datum.value*5))<0.001","value":-6},"value":-3},"title":null}},
     "color":{"field":"s","type":"nominal","scale":{"domain":["r","o","g","b","stis","iue","breger","td1","adelman","johnson","geneva","2mass"],"range":["#ff0000","#ff7518","#5c9e10","#1e78ff","#000000","#a010a0","#44ee22","#0a6cff","#1a6aff","#5a9a10","#980a98","#ff6a10"]},"legend":null},
     "shape":{"field":"s","type":"nominal","scale":{"domain":["breger","td1","adelman","johnson","geneva","2mass"],"range":["diamond","square","triangle-up","square","square","square"]},"legend":null},
     "size":{"condition":[{"test":"datum.s==='breger'","value":30},{"test":"datum.s==='adelman'","value":45}],"value":90}}}
  ],
  "resolve":{"axis":{"x":"independent","y":"independent"}}},
 {"width":283,"height":166,"title":{"text":"Balmer jump"},
  "layer":[
   {"data":{"name":"bjm"},"transform":[{"fold":["r","o","g","b"],"as":["s","y"]}],"mark":{"type":"line","strokeWidth":1,"clip":true},
    "encoding":{
     "x":{"field":"x","type":"quantitative","scale":{"domain":[3200,4300],"nice":false,"zero":false},"axis":{"orient":"bottom","values":[3200,3250,3300,3350,3400,3450,3500,3550,3600,3650,3700,3750,3800,3850,3900,3950,4000,4050,4100,4150,4200,4250,4300],"labelExpr":"datum.value % 200 === 0 ? format(datum.value,'d') : ''","tickSize":{"condition":{"test":"datum.value % 200 === 0","value":-6},"value":-3},"labelPadding":11,"title":"λ, [Å]","titlePadding":-2}},
     "y":{"field":"y","type":"quantitative","scale":{"domain":[0.86,3.14],"nice":false,"zero":false},"axis":{"orient":"left","values":[0.9,1.0,1.1,1.2,1.3,1.4,1.5,1.6,1.7,1.8,1.9,2.0,2.1,2.2,2.3,2.4,2.5,2.6,2.7,2.8,2.9,3.0,3.1],"labelExpr":"abs(datum.value*2-round(datum.value*2))<0.001 ? format(datum.value,'.1f') : ''","tickSize":{"condition":{"test":"abs(datum.value*2-round(datum.value*2))<0.001","value":-6},"value":-3},"labelPadding":13,"title":null}},
     "color":{"field":"s","type":"nominal","scale":{"domain":["r","o","g","b","stis","iue","breger","td1","adelman","johnson","geneva","2mass"],"range":["#ff0000","#ff7518","#5c9e10","#1e78ff","#000000","#a010a0","#44ee22","#0a6cff","#1a6aff","#5a9a10","#980a98","#ff6a10"]},"legend":null}}},
   {"data":{"name":"bjs"},"mark":{"type":"line","color":"#333333","strokeWidth":0.8,"clip":true},
    "encoding":{"x":{"field":"x","type":"quantitative","axis":null},"y":{"field":"y","type":"quantitative","axis":null}}},
   {"data":{"name":"phot"},"transform":[{"filter":"datum.p==='bj'"}],"mark":{"type":"point","filled":true,"opacity":1,"strokeWidth":0,"clip":true},
    "encoding":{
     "x":{"field":"x","type":"quantitative","axis":{"orient":"top","values":[3200,3250,3300,3350,3400,3450,3500,3550,3600,3650,3700,3750,3800,3850,3900,3950,4000,4050,4100,4150,4200,4250,4300],"labels":false,"tickSize":{"condition":{"test":"datum.value % 200 === 0","value":-6},"value":-3},"title":null}},
     "y":{"field":"y","type":"quantitative","axis":{"orient":"right","values":[0.9,1.0,1.1,1.2,1.3,1.4,1.5,1.6,1.7,1.8,1.9,2.0,2.1,2.2,2.3,2.4,2.5,2.6,2.7,2.8,2.9,3.0,3.1],"labels":false,"tickSize":{"condition":{"test":"abs(datum.value*2-round(datum.value*2))<0.001","value":-6},"value":-3},"title":null}},
     "color":{"field":"s","type":"nominal","scale":{"domain":["r","o","g","b","stis","iue","breger","td1","adelman","johnson","geneva","2mass"],"range":["#ff0000","#ff7518","#5c9e10","#1e78ff","#000000","#a010a0","#44ee22","#0a6cff","#1a6aff","#5a9a10","#980a98","#ff6a10"]},"legend":null},
     "shape":{"field":"s","type":"nominal","scale":{"domain":["breger","td1","adelman","johnson","geneva","2mass"],"range":["diamond","square","triangle-up","square","square","square"]},"legend":null},
     "size":{"condition":[{"test":"datum.s==='breger'","value":30},{"test":"datum.s==='adelman'","value":45}],"value":90}}}
  ],
  "resolve":{"axis":{"x":"independent","y":"independent"}}}
]},
{"bounds":"flush","spacing":39,"hconcat":[
 {"width":406,"height":166,"title":{"text":"Visual and NIR"},
  "layer":[
   {"data":{"name":"vism"},"transform":[{"fold":["r","o","g","b"],"as":["s","y"]}],"mark":{"type":"line","strokeWidth":1,"clip":true},
    "encoding":{
     "x":{"field":"x","type":"quantitative","scale":{"domain":[4300,11000],"nice":false,"zero":false},"axis":{"orient":"bottom","values":[4500,4750,5000,5250,5500,5750,6000,6250,6500,6750,7000,7250,7500,7750,8000,8250,8500,8750,9000,9250,9500,9750,10000,10250,10500,10750,11000],"labelExpr":"datum.value % 1000 === 0 ? format(datum.value,'d') : ''","tickSize":{"condition":{"test":"datum.value % 1000 === 0","value":-6},"value":-3},"labelPadding":11,"title":"λ, [Å]","titlePadding":-2}},
     "y":{"field":"y","type":"quantitative","scale":{"domain":[0.24,2.66],"nice":false,"zero":false},"axis":{"orient":"left","values":[0.3,0.4,0.5,0.6,0.7,0.8,0.9,1.0,1.1,1.2,1.3,1.4,1.5,1.6,1.7,1.8,1.9,2.0,2.1,2.2,2.3,2.4,2.5,2.6],"labelExpr":"abs(datum.value*2-round(datum.value*2))<0.001 ? format(datum.value,'.1f') : ''","tickSize":{"condition":{"test":"abs(datum.value*2-round(datum.value*2))<0.001","value":-6},"value":-3},"labelPadding":13,"title":"Fλ× 10¹¹, [erg/s/cm²/Å]","titlePadding":8}},
     "color":{"field":"s","type":"nominal","scale":{"domain":["r","o","g","b","stis","iue","breger","td1","adelman","johnson","geneva","2mass"],"range":["#ff0000","#ff7518","#5c9e10","#1e78ff","#000000","#a010a0","#44ee22","#0a6cff","#1a6aff","#5a9a10","#980a98","#ff6a10"]},"legend":null}}},
   {"data":{"name":"viss"},"mark":{"type":"line","color":"#333333","strokeWidth":0.8,"clip":true},
    "encoding":{"x":{"field":"x","type":"quantitative","axis":null},"y":{"field":"y","type":"quantitative","axis":null}}},
   {"data":{"name":"phot"},"transform":[{"filter":"datum.p==='vis'"}],"mark":{"type":"point","filled":true,"opacity":1,"strokeWidth":0,"clip":true},
    "encoding":{
     "x":{"field":"x","type":"quantitative","axis":{"orient":"top","values":[4500,4750,5000,5250,5500,5750,6000,6250,6500,6750,7000,7250,7500,7750,8000,8250,8500,8750,9000,9250,9500,9750,10000,10250,10500,10750,11000],"labels":false,"tickSize":{"condition":{"test":"datum.value % 1000 === 0","value":-6},"value":-3},"title":null}},
     "y":{"field":"y","type":"quantitative","axis":{"orient":"right","values":[0.3,0.4,0.5,0.6,0.7,0.8,0.9,1.0,1.1,1.2,1.3,1.4,1.5,1.6,1.7,1.8,1.9,2.0,2.1,2.2,2.3,2.4,2.5,2.6],"labels":false,"tickSize":{"condition":{"test":"abs(datum.value*2-round(datum.value*2))<0.001","value":-6},"value":-3},"title":null}},
     "color":{"field":"s","type":"nominal","scale":{"domain":["r","o","g","b","stis","iue","breger","td1","adelman","johnson","geneva","2mass"],"range":["#ff0000","#ff7518","#5c9e10","#1e78ff","#000000","#a010a0","#44ee22","#0a6cff","#1a6aff","#5a9a10","#980a98","#ff6a10"]},"legend":null},
     "shape":{"field":"s","type":"nominal","scale":{"domain":["breger","td1","adelman","johnson","geneva","2mass"],"range":["diamond","square","triangle-up","square","square","square"]},"legend":null},
     "size":{"condition":[{"test":"datum.s==='breger'","value":30},{"test":"datum.s==='adelman'","value":45}],"value":90}}}
  ],
  "resolve":{"axis":{"x":"independent","y":"independent"}}},
 {"bounds":"flush","spacing":11,"hconcat":[
  {"width":146,"height":166,"title":{"text":"IR"},
   "layer":[
    {"data":{"name":"irm"},"transform":[{"fold":["r","o","g","b"],"as":["s","y"]}],"mark":{"type":"line","strokeWidth":1,"clip":true},
     "encoding":{
      "x":{"field":"x","type":"quantitative","scale":{"domain":[1.0,2.3],"nice":false,"zero":false},"axis":{"orient":"bottom","values":[1.0,1.05,1.1,1.15,1.2,1.25,1.3,1.35,1.4,1.45,1.5,1.55,1.6,1.65,1.7,1.75,1.8,1.85,1.9,1.95,2.0,2.05,2.1,2.15,2.2,2.25,2.3],"labelExpr":"abs(datum.value*5-round(datum.value*5))<0.001 ? format(datum.value,'.1f') : ''","tickSize":{"condition":{"test":"abs(datum.value*5-round(datum.value*5))<0.001","value":-6},"value":-3},"labelPadding":11,"labelFontSize":10.5,"title":"λ, [μm]","titlePadding":-1}},
      "y":{"field":"y","type":"quantitative","scale":{"type":"log","domain":[0.009,0.33],"nice":false},"axis":{"orient":"left","values":[0.01,0.02,0.03,0.04,0.05,0.06,0.07,0.08,0.09,0.1,0.2,0.3],"labelExpr":"(datum.value===0.01||datum.value===0.1) ? format(datum.value,'.2f') : ''","tickSize":{"condition":{"test":"datum.value===0.01||datum.value===0.1","value":-6},"value":-3},"labelPadding":13,"title":null}},
      "color":{"field":"s","type":"nominal","scale":{"domain":["r","o","g","b","stis","iue","breger","td1","adelman","johnson","geneva","2mass"],"range":["#ff0000","#ff7518","#5c9e10","#1e78ff","#000000","#a010a0","#44ee22","#0a6cff","#1a6aff","#5a9a10","#980a98","#ff6a10"]},"legend":null}}},
    {"data":{"name":"phot"},"transform":[{"filter":"datum.p==='ir'"}],"mark":{"type":"point","filled":true,"opacity":1,"strokeWidth":0,"clip":true},
     "encoding":{
      "x":{"field":"x","type":"quantitative","axis":{"orient":"top","values":[1.0,1.05,1.1,1.15,1.2,1.25,1.3,1.35,1.4,1.45,1.5,1.55,1.6,1.65,1.7,1.75,1.8,1.85,1.9,1.95,2.0,2.05,2.1,2.15,2.2,2.25,2.3],"labels":false,"tickSize":{"condition":{"test":"abs(datum.value*5-round(datum.value*5))<0.001","value":-6},"value":-3},"title":null}},
      "y":{"field":"y","type":"quantitative","axis":{"orient":"right","values":[0.01,0.02,0.03,0.04,0.05,0.06,0.07,0.08,0.09,0.1,0.2,0.3],"labels":false,"tickSize":{"condition":{"test":"datum.value===0.01||datum.value===0.1","value":-6},"value":-3},"title":null}},
      "color":{"field":"s","type":"nominal","scale":{"domain":["r","o","g","b","stis","iue","breger","td1","adelman","johnson","geneva","2mass"],"range":["#ff0000","#ff7518","#5c9e10","#1e78ff","#000000","#a010a0","#44ee22","#0a6cff","#1a6aff","#5a9a10","#980a98","#ff6a10"]},"legend":null},
      "shape":{"field":"s","type":"nominal","scale":{"domain":["breger","td1","adelman","johnson","geneva","2mass"],"range":["diamond","square","triangle-up","square","square","square"]},"legend":null},
      "size":{"condition":[{"test":"datum.s==='breger'","value":30},{"test":"datum.s==='adelman'","value":45}],"value":90}}}
   ],
   "resolve":{"axis":{"x":"independent","y":"independent"}}},
  {"width":150,"height":166,"view":{"stroke":null},"data":{"name":"leg"},
   "layer":[
    {"transform":[{"filter":"indexof(['r','o','g','b','stis'], datum.s) >= 0 && indexof(datum.t, 'He-') < 0"}],"mark":{"type":"rule","strokeWidth":1.2},
     "encoding":{"x":{"datum":0,"type":"quantitative","scale":{"domain":[0,150],"nice":false,"zero":false},"axis":null},"x2":{"datum":54},
      "y":{"field":"n","type":"quantitative","scale":{"domain":[-0.75,13.02],"reverse":true,"nice":false,"zero":false},"axis":null},
      "color":{"field":"s","type":"nominal","scale":{"domain":["r","o","g","b","stis","iue","breger","td1","adelman","johnson","geneva","2mass"],"range":["#ff0000","#ff7518","#5c9e10","#1e78ff","#000000","#a010a0","#44ee22","#0a6cff","#1a6aff","#5a9a10","#980a98","#ff6a10"]},"legend":null}}},
    {"transform":[{"filter":"datum.s==='iue'"}],"mark":{"type":"rule","strokeWidth":1.2,"strokeDash":[5,4]},
     "encoding":{"x":{"datum":0,"type":"quantitative"},"x2":{"datum":54},"y":{"field":"n","type":"quantitative"},
      "color":{"field":"s","type":"nominal","scale":{"domain":["r","o","g","b","stis","iue","breger","td1","adelman","johnson","geneva","2mass"],"range":["#ff0000","#ff7518","#5c9e10","#1e78ff","#000000","#a010a0","#44ee22","#0a6cff","#1a6aff","#5a9a10","#980a98","#ff6a10"]},"legend":null}}},
    {"transform":[{"filter":"indexof(['breger','td1','adelman','johnson','geneva','2mass'], datum.s) >= 0"}],"mark":{"type":"point","filled":true,"opacity":1,"strokeWidth":0},
     "encoding":{"x":{"datum":27,"type":"quantitative"},"y":{"field":"n","type":"quantitative"},
      "color":{"field":"s","type":"nominal","scale":{"domain":["r","o","g","b","stis","iue","breger","td1","adelman","johnson","geneva","2mass"],"range":["#ff0000","#ff7518","#5c9e10","#1e78ff","#000000","#a010a0","#44ee22","#0a6cff","#1a6aff","#5a9a10","#980a98","#ff6a10"]},"legend":null},
      "shape":{"field":"s","type":"nominal","scale":{"domain":["breger","td1","adelman","johnson","geneva","2mass"],"range":["diamond","square","triangle-up","square","square","square"]},"legend":null},
      "size":{"condition":[{"test":"datum.s==='breger'","value":30},{"test":"datum.s==='adelman'","value":45}],"value":60}}},
    {"mark":{"type":"text","align":"left","baseline":"middle","fontSize":10.5,"font":"DejaVu Sans"},
     "encoding":{"x":{"datum":62,"type":"quantitative"},"y":{"field":"n","type":"quantitative"},"text":{"field":"t"},
      "color":{"field":"s","type":"nominal","scale":{"domain":["r","o","g","b","stis","iue","breger","td1","adelman","johnson","geneva","2mass"],"range":["#ff0000","#ff7518","#5c9e10","#1e78ff","#000000","#a010a0","#44ee22","#0a6cff","#1a6aff","#5a9a10","#980a98","#ff6a10"]},"legend":null}}}
   ]}
 ]}
]}
]
}
